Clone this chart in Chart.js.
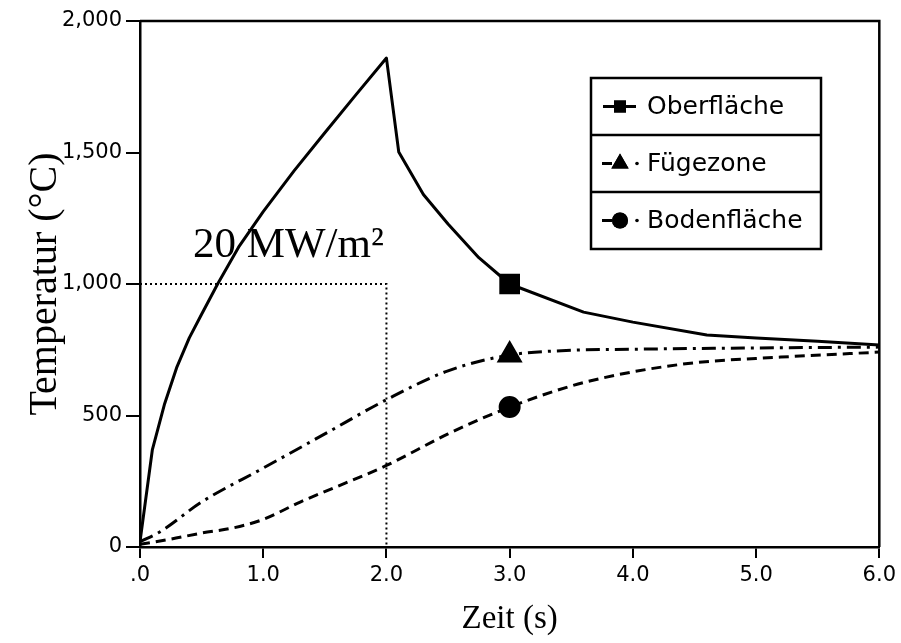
<!DOCTYPE html>
<html>
<head>
<meta charset="utf-8">
<script src="https://cdn.jsdelivr.net/npm/chart.js@4.4.0/dist/chart.umd.min.js"></script>
<style>
  html, body { margin: 0; padding: 0; background: #fff; }
  #wrap { width: 901px; height: 643px; }
</style>
</head>
<body>
<div id="wrap"><canvas id="tempChart" width="901" height="643"></canvas></div>
<script>
// Zeit (s) und Temperatur (°C)
const zeitOber = [0, 0.1, 0.2, 0.3, 0.4, 0.5, 0.63, 0.8, 1.0, 1.25, 1.5, 1.75, 2.0, 2.1, 2.3, 2.5, 2.75, 3.0, 3.6, 4.0, 4.6, 5.0, 5.5, 6.0];
const tempOber = [20, 369, 545, 685, 795, 885, 1000, 1140, 1275, 1430, 1575, 1718, 1859, 1502, 1340, 1228, 1100, 1000, 893, 855, 806, 795, 782, 768];

const zeitFuege = [0, 0.16, 0.5, 1.0, 1.5, 2.0, 2.5, 3.0, 3.5, 4.0, 5.0, 6.0];
const tempFuege = [20, 57, 171, 300, 430, 560, 670, 730, 748, 752, 757, 760];

const zeitBoden = [0, 0.25, 0.5, 0.75, 1.0, 1.3, 1.6, 2.0, 2.5, 3.0, 3.6, 4.4, 5.2, 6.0];
const tempBoden = [10, 30, 53, 72, 105, 171, 230, 310, 430, 532, 625, 695, 722, 741];

// Heizphase 20 MW/m² (gepunktete Box)
const zeitBox = [0, 2, 2];
const tempBox = [1000, 1000, 0];

const xTicks = [0, 1, 2, 3, 4, 5, 6];
const yTicks = [0, 500, 1000, 1500, 2000];
const MARKER_T = 3;

const SERIES = [
  { name: 'Oberfläche', style: 'rect' },
  { name: 'Fügezone', style: 'triangle' },
  { name: 'Bodenfläche', style: 'circle' }
];

function toPoints(xs, ys) {
  return xs.map((x, i) => ({ x: x, y: ys[i] }));
}

function markerRadius(r) {
  return ctx => (ctx.raw && ctx.raw.x === MARKER_T) ? r : 0;
}

const tickFont = { family: 'DejaVu Sans', size: 21 };

const extras = {
  id: 'extras',
  afterDraw(chart) {
    const ctx = chart.ctx;
    const a = chart.chartArea;
    const xs = chart.scales.x, ys = chart.scales.y;
    ctx.save();

    // Rahmen oben und rechts
    ctx.strokeStyle = '#000';
    ctx.lineWidth = 2.5;
    ctx.beginPath();
    ctx.moveTo(a.left, a.top);
    ctx.lineTo(a.right, a.top);
    ctx.lineTo(a.right, a.bottom);
    ctx.stroke();

    // Beschriftung
    ctx.fillStyle = '#000';
    ctx.font = '43px "Liberation Serif"';
    ctx.textBaseline = 'alphabetic';
    ctx.textAlign = 'left';
    ctx.fillText('20 MW/m²', xs.getPixelForValue(0.43), ys.getPixelForValue(1103));

    // Legende
    const lx = 591, lw = 230, rowH = 57, ly = 78;
    ctx.fillStyle = '#fff';
    ctx.fillRect(lx, ly, lw, rowH * 3);
    ctx.lineWidth = 2.5;
    ctx.strokeRect(lx, ly, lw, rowH * 3);
    ctx.beginPath();
    ctx.moveTo(lx, ly + rowH); ctx.lineTo(lx + lw, ly + rowH);
    ctx.moveTo(lx, ly + 2 * rowH); ctx.lineTo(lx + lw, ly + 2 * rowH);
    ctx.stroke();

    ctx.fillStyle = '#000';
    ctx.font = '25px "DejaVu Sans"';
    ctx.textBaseline = 'middle';
    SERIES.forEach((s, i) => {
      const cy = ly + rowH * i + rowH / 2;
      ctx.lineWidth = 3;
      ctx.beginPath();
      if (i === 0) {
        ctx.moveTo(603, cy); ctx.lineTo(636, cy);
      } else {
        ctx.moveTo(602, cy); ctx.lineTo(612, cy);
      }
      ctx.stroke();
      if (i > 0) {
        ctx.beginPath();
        ctx.arc(637, cy, 1.8, 0, Math.PI * 2);
        ctx.fill();
      }
      Chart.helpers.drawPoint(ctx, {
        pointStyle: s.style,
        radius: i === 0 ? 8.5 : (i === 1 ? 10 : 8),
        rotation: 0,
        borderWidth: 0
      }, 620, cy);
      ctx.fill();
      ctx.fillText(s.name, 647, cy + 1);
    });

    ctx.restore();
  }
};

const ctx = document.getElementById('tempChart').getContext('2d');
const chart = new Chart(ctx, {
  type: 'line',
  data: {
    datasets: [
      {
        label: 'Oberfläche',
        data: toPoints(zeitOber, tempOber),
        borderColor: '#000',
        backgroundColor: '#000',
        borderWidth: 3,
        borderJoinStyle: 'round',
        pointStyle: 'rect',
        pointRadius: markerRadius(12.5),
        tension: 0
      },
      {
        label: 'Fügezone',
        data: toPoints(zeitFuege, tempFuege),
        borderColor: '#000',
        backgroundColor: '#000',
        borderWidth: 3,
        borderDash: [14, 6, 3, 6],
        pointStyle: 'triangle',
        pointRadius: markerRadius(12),
        cubicInterpolationMode: 'monotone'
      },
      {
        label: 'Bodenfläche',
        data: toPoints(zeitBoden, tempBoden),
        borderColor: '#000',
        backgroundColor: '#000',
        borderWidth: 3,
        borderDash: [10, 6],
        pointStyle: 'circle',
        pointRadius: markerRadius(9.5),
        cubicInterpolationMode: 'monotone'
      },
      {
        label: 'Box',
        data: toPoints(zeitBox, tempBox),
        borderColor: '#000',
        borderWidth: 2,
        borderDash: [2, 3],
        pointRadius: 0,
        tension: 0
      }
    ]
  },
  options: {
    responsive: false,
    animation: false,
    layout: { padding: { left: 0, right: 21, top: 21, bottom: 0 } },
    plugins: {
      legend: { display: false },
      tooltip: { enabled: false }
    },
    scales: {
      x: {
        type: 'linear',
        min: 0,
        max: 6,
        afterBuildTicks: s => { s.ticks = xTicks.map(v => ({ value: v })); },
        afterFit: s => { s.height = 96; },
        ticks: {
          color: '#000',
          font: tickFont,
          padding: 5,
          maxRotation: 0,
          callback: v => v === 0 ? '.0' : v.toFixed(1)
        },
        grid: { drawOnChartArea: false, drawTicks: true, tickLength: 11, color: '#000', lineWidth: 2 },
        border: { display: true, color: '#000', width: 2.5 },
        title: { display: true, text: 'Zeit (s)', color: '#000', font: { family: 'Liberation Serif', size: 33 }, padding: { top: 0, bottom: 4 } }
      },
      y: {
        type: 'linear',
        min: 0,
        max: 2000,
        afterBuildTicks: s => { s.ticks = yTicks.map(v => ({ value: v })); },
        afterFit: s => { s.width = 140; },
        ticks: {
          color: '#000',
          font: tickFont,
          padding: 4,
          callback: v => v.toLocaleString('en-US')
        },
        grid: { drawOnChartArea: false, drawTicks: true, tickLength: 14, color: '#000', lineWidth: 2 },
        border: { display: true, color: '#000', width: 2.5 },
        title: { display: true, text: 'Temperatur (°C)', color: '#000', font: { family: 'Liberation Serif', size: 40 }, padding: { top: 21, bottom: 0 } }
      }
    }
  },
  plugins: [extras]
});
</script>
</body>
</html>
